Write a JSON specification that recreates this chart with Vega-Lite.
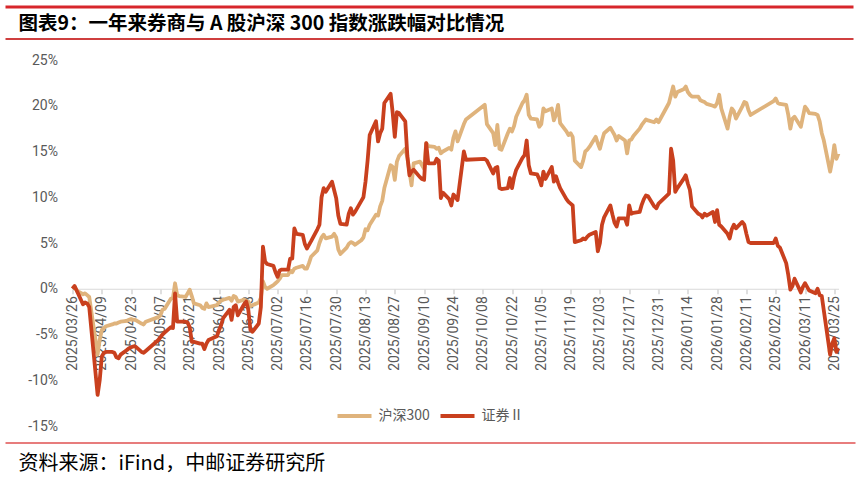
{
"$schema": "https://vega.github.io/schema/vega-lite/v6.json",
"background": "white",
"padding": {"left": 3.5, "top": 5, "right": 0, "bottom": 0},
"spacing": 0,
"config": {"view": {"stroke": null}, "font": "Noto Sans CJK SC"},
"datasets": {"main": [
{"d":"2025-03-26","沪深300":0.0,"证券Ⅱ":0.0},
{"d":"2025-03-27","沪深300":0.2,"证券Ⅱ":0.3},
{"d":"2025-03-28","沪深300":-0.2,"证券Ⅱ":-0.2},
{"d":"2025-03-31","沪深300":-0.6,"证券Ⅱ":-1.7},
{"d":"2025-04-01","沪深300":-0.5,"证券Ⅱ":-1.5},
{"d":"2025-04-02","沪深300":-0.7,"证券Ⅱ":-1.6},
{"d":"2025-04-03","沪深300":-0.9,"证券Ⅱ":-2.0},
{"d":"2025-04-07","沪深300":-7.2,"证券Ⅱ":-11.6},
{"d":"2025-04-08","沪深300":-5.6,"证券Ⅱ":-10.0},
{"d":"2025-04-09","沪深300":-4.5,"证券Ⅱ":-7.4},
{"d":"2025-04-10","沪深300":-4.3,"证券Ⅱ":-7.0},
{"d":"2025-04-11","沪深300":-4.1,"证券Ⅱ":-6.9},
{"d":"2025-04-14","沪深300":-3.9,"证券Ⅱ":-6.9},
{"d":"2025-04-15","沪深300":-3.8,"证券Ⅱ":-7.0},
{"d":"2025-04-16","沪深300":-3.8,"证券Ⅱ":-7.5},
{"d":"2025-04-17","沪深300":-3.7,"证券Ⅱ":-7.6},
{"d":"2025-04-18","沪深300":-3.6,"证券Ⅱ":-7.2},
{"d":"2025-04-21","沪深300":-3.5,"证券Ⅱ":-6.7},
{"d":"2025-04-22","沪深300":-3.4,"证券Ⅱ":-6.5},
{"d":"2025-04-23","沪深300":-3.3,"证券Ⅱ":-6.4},
{"d":"2025-04-24","沪深300":-3.4,"证券Ⅱ":-6.3},
{"d":"2025-04-25","沪深300":-3.4,"证券Ⅱ":-6.3},
{"d":"2025-04-28","沪深300":-3.8,"证券Ⅱ":-6.9},
{"d":"2025-04-29","沪深300":-3.9,"证券Ⅱ":-7.0},
{"d":"2025-04-30","沪深300":-3.6,"证券Ⅱ":-6.8},
{"d":"2025-05-06","沪深300":-3.1,"证券Ⅱ":-5.6},
{"d":"2025-05-07","沪深300":-2.9,"证券Ⅱ":-5.3},
{"d":"2025-05-08","沪深300":-2.3,"证券Ⅱ":-5.0},
{"d":"2025-05-09","沪深300":-2.2,"证券Ⅱ":-4.8},
{"d":"2025-05-12","沪深300":-1.1,"证券Ⅱ":-4.2},
{"d":"2025-05-13","沪深300":-1.0,"证券Ⅱ":-4.3},
{"d":"2025-05-14","沪深300":0.6,"证券Ⅱ":-0.5},
{"d":"2025-05-15","沪深300":-0.7,"证券Ⅱ":-3.6},
{"d":"2025-05-16","沪深300":-0.8,"证券Ⅱ":-3.6},
{"d":"2025-05-19","沪深300":-0.9,"证券Ⅱ":-3.6},
{"d":"2025-05-20","沪深300":-0.5,"证券Ⅱ":-3.7},
{"d":"2025-05-21","沪深300":-0.1,"证券Ⅱ":-4.2},
{"d":"2025-05-22","沪深300":-0.8,"证券Ⅱ":-5.8},
{"d":"2025-05-23","沪深300":-1.6,"证券Ⅱ":-5.8},
{"d":"2025-05-26","沪深300":-1.8,"证券Ⅱ":-6.0},
{"d":"2025-05-27","沪深300":-2.1,"证券Ⅱ":-6.0},
{"d":"2025-05-28","沪深300":-2.2,"证券Ⅱ":-6.6},
{"d":"2025-05-29","沪深300":-1.6,"证券Ⅱ":-6.0},
{"d":"2025-05-30","沪深300":-2.0,"证券Ⅱ":-5.6},
{"d":"2025-06-03","沪深300":-1.8,"证券Ⅱ":-5.2},
{"d":"2025-06-04","沪深300":-1.5,"证券Ⅱ":-4.5},
{"d":"2025-06-05","沪深300":-1.3,"证券Ⅱ":-4.0},
{"d":"2025-06-06","沪深300":-1.2,"证券Ⅱ":-3.2},
{"d":"2025-06-09","沪深300":-1.0,"证券Ⅱ":-2.3},
{"d":"2025-06-10","沪深300":-1.3,"证券Ⅱ":-3.4},
{"d":"2025-06-11","沪深300":-0.8,"证券Ⅱ":-2.0},
{"d":"2025-06-12","沪深300":-0.9,"证券Ⅱ":-1.8},
{"d":"2025-06-13","沪深300":-1.4,"证券Ⅱ":-2.9},
{"d":"2025-06-16","沪深300":-1.2,"证券Ⅱ":-1.7},
{"d":"2025-06-17","沪深300":-1.3,"证券Ⅱ":-1.4},
{"d":"2025-06-18","沪深300":-1.4,"证券Ⅱ":-2.3},
{"d":"2025-06-19","沪深300":-1.9,"证券Ⅱ":-4.5},
{"d":"2025-06-20","沪深300":-1.8,"证券Ⅱ":-4.7},
{"d":"2025-06-23","沪深300":-1.5,"证券Ⅱ":-3.8},
{"d":"2025-06-24","沪深300":-1.0,"证券Ⅱ":-2.0},
{"d":"2025-06-25","沪深300":0.8,"证券Ⅱ":4.6},
{"d":"2025-06-26","沪深300":0.2,"证券Ⅱ":3.0},
{"d":"2025-06-27","沪深300":0.0,"证券Ⅱ":2.7},
{"d":"2025-06-30","沪深300":0.4,"证券Ⅱ":2.5},
{"d":"2025-07-01","沪深300":0.6,"证券Ⅱ":1.8},
{"d":"2025-07-02","沪深300":0.8,"证券Ⅱ":1.3},
{"d":"2025-07-03","沪深300":1.1,"证券Ⅱ":2.0},
{"d":"2025-07-04","沪深300":1.5,"证券Ⅱ":2.1},
{"d":"2025-07-07","沪深300":1.5,"证券Ⅱ":2.1},
{"d":"2025-07-08","沪深300":2.0,"证券Ⅱ":3.3},
{"d":"2025-07-09","沪深300":1.8,"证券Ⅱ":3.3},
{"d":"2025-07-10","沪深300":2.2,"证券Ⅱ":6.6},
{"d":"2025-07-11","沪深300":2.3,"证券Ⅱ":6.0},
{"d":"2025-07-14","沪深300":2.5,"证券Ⅱ":5.9},
{"d":"2025-07-15","沪深300":2.2,"证券Ⅱ":4.9},
{"d":"2025-07-16","沪深300":2.2,"证券Ⅱ":4.4},
{"d":"2025-07-17","沪深300":2.8,"证券Ⅱ":4.8},
{"d":"2025-07-18","沪深300":3.5,"证券Ⅱ":5.2},
{"d":"2025-07-21","沪深300":4.2,"证券Ⅱ":6.5},
{"d":"2025-07-22","沪深300":5.0,"证券Ⅱ":7.0},
{"d":"2025-07-23","沪深300":5.6,"证券Ⅱ":10.0},
{"d":"2025-07-24","沪深300":5.9,"证券Ⅱ":11.0},
{"d":"2025-07-25","沪深300":5.5,"证券Ⅱ":10.6},
{"d":"2025-07-28","沪深300":5.7,"证券Ⅱ":11.7},
{"d":"2025-07-29","沪深300":6.0,"证券Ⅱ":10.8},
{"d":"2025-07-30","沪深300":5.6,"证券Ⅱ":9.9},
{"d":"2025-07-31","沪深300":4.3,"证券Ⅱ":8.0},
{"d":"2025-08-01","沪深300":3.8,"证券Ⅱ":7.1},
{"d":"2025-08-04","沪深300":4.5,"证券Ⅱ":7.0},
{"d":"2025-08-05","沪深300":4.9,"证券Ⅱ":8.2},
{"d":"2025-08-06","沪深300":5.1,"证券Ⅱ":8.8},
{"d":"2025-08-07","沪深300":5.0,"证券Ⅱ":8.1},
{"d":"2025-08-08","沪深300":4.8,"证券Ⅱ":8.4},
{"d":"2025-08-11","沪深300":5.3,"证券Ⅱ":9.6},
{"d":"2025-08-12","沪深300":5.6,"证券Ⅱ":10.0},
{"d":"2025-08-13","沪深300":6.5,"证券Ⅱ":11.7},
{"d":"2025-08-14","沪深300":6.4,"证券Ⅱ":14.0},
{"d":"2025-08-15","沪深300":7.0,"证券Ⅱ":16.8},
{"d":"2025-08-18","沪深300":8.1,"证券Ⅱ":18.3},
{"d":"2025-08-19","沪深300":8.0,"证券Ⅱ":16.1},
{"d":"2025-08-20","沪深300":9.0,"证券Ⅱ":17.0},
{"d":"2025-08-21","沪深300":9.6,"证券Ⅱ":17.5},
{"d":"2025-08-22","沪深300":11.0,"证券Ⅱ":20.3},
{"d":"2025-08-25","沪深300":13.5,"证券Ⅱ":21.3},
{"d":"2025-08-26","沪深300":13.3,"证券Ⅱ":19.2},
{"d":"2025-08-27","沪深300":11.9,"证券Ⅱ":16.6},
{"d":"2025-08-28","沪深300":13.9,"证券Ⅱ":19.3},
{"d":"2025-08-29","沪深300":14.5,"证券Ⅱ":19.2},
{"d":"2025-09-01","沪深300":15.3,"证券Ⅱ":18.3},
{"d":"2025-09-02","沪深300":14.3,"证券Ⅱ":14.5},
{"d":"2025-09-03","沪深300":12.8,"证券Ⅱ":12.4},
{"d":"2025-09-04","沪深300":11.3,"证券Ⅱ":12.8},
{"d":"2025-09-05","沪深300":13.7,"证券Ⅱ":13.0},
{"d":"2025-09-08","沪深300":13.9,"证券Ⅱ":12.2},
{"d":"2025-09-09","沪深300":13.5,"证券Ⅱ":12.0},
{"d":"2025-09-10","沪深300":13.1,"证券Ⅱ":11.9},
{"d":"2025-09-11","沪深300":15.9,"证券Ⅱ":15.9},
{"d":"2025-09-12","沪深300":15.6,"证券Ⅱ":13.7},
{"d":"2025-09-15","沪深300":15.5,"证券Ⅱ":13.7},
{"d":"2025-09-16","沪深300":15.3,"证券Ⅱ":14.2},
{"d":"2025-09-17","沪深300":15.4,"证券Ⅱ":14.0},
{"d":"2025-09-18","沪深300":14.8,"证券Ⅱ":9.9},
{"d":"2025-09-19","沪深300":15.0,"证券Ⅱ":10.5},
{"d":"2025-09-22","沪深300":15.4,"证券Ⅱ":9.8},
{"d":"2025-09-23","沪深300":15.2,"证券Ⅱ":9.1},
{"d":"2025-09-24","沪深300":16.5,"证券Ⅱ":10.3},
{"d":"2025-09-25","沪深300":17.2,"证券Ⅱ":10.0},
{"d":"2025-09-26","沪深300":16.1,"证券Ⅱ":9.7},
{"d":"2025-09-29","沪深300":18.0,"证券Ⅱ":15.0},
{"d":"2025-09-30","沪深300":18.5,"证券Ⅱ":14.1},
{"d":"2025-10-09","沪深300":20.1,"证券Ⅱ":14.2},
{"d":"2025-10-10","沪深300":18.0,"证券Ⅱ":14.0},
{"d":"2025-10-13","沪深300":17.0,"证券Ⅱ":12.6},
{"d":"2025-10-14","沪深300":15.7,"证券Ⅱ":13.2},
{"d":"2025-10-15","沪深300":17.9,"证券Ⅱ":13.3},
{"d":"2025-10-16","沪深300":15.3,"证券Ⅱ":11.0},
{"d":"2025-10-17","沪深300":15.2,"证券Ⅱ":10.9},
{"d":"2025-10-20","沪深300":17.0,"证券Ⅱ":11.0},
{"d":"2025-10-21","沪深300":17.5,"证券Ⅱ":12.1},
{"d":"2025-10-22","沪深300":17.2,"证券Ⅱ":11.0},
{"d":"2025-10-23","沪深300":17.8,"证券Ⅱ":12.2},
{"d":"2025-10-24","沪深300":18.8,"证券Ⅱ":13.0},
{"d":"2025-10-27","沪深300":20.3,"证券Ⅱ":14.3},
{"d":"2025-10-28","沪深300":20.6,"证券Ⅱ":14.6},
{"d":"2025-10-29","沪深300":21.2,"证券Ⅱ":16.2},
{"d":"2025-10-30","沪深300":19.0,"证券Ⅱ":13.5},
{"d":"2025-10-31","沪深300":18.6,"证券Ⅱ":12.6},
{"d":"2025-11-03","沪深300":18.5,"证券Ⅱ":12.5},
{"d":"2025-11-04","沪深300":17.7,"证券Ⅱ":12.0},
{"d":"2025-11-05","沪深300":18.0,"证券Ⅱ":11.3},
{"d":"2025-11-06","沪深300":19.7,"证券Ⅱ":12.8},
{"d":"2025-11-07","沪深300":19.4,"证券Ⅱ":12.0},
{"d":"2025-11-10","沪深300":19.7,"证券Ⅱ":13.3},
{"d":"2025-11-11","沪深300":18.4,"证券Ⅱ":11.7},
{"d":"2025-11-12","沪深300":19.0,"证券Ⅱ":12.3},
{"d":"2025-11-13","沪深300":20.1,"证券Ⅱ":11.6},
{"d":"2025-11-14","沪深300":18.1,"证券Ⅱ":11.0},
{"d":"2025-11-17","沪深300":17.2,"证券Ⅱ":9.8},
{"d":"2025-11-18","沪深300":16.8,"证券Ⅱ":9.5},
{"d":"2025-11-19","沪深300":17.0,"证券Ⅱ":9.3},
{"d":"2025-11-20","沪深300":16.6,"证券Ⅱ":9.1},
{"d":"2025-11-21","沪深300":14.0,"证券Ⅱ":5.1},
{"d":"2025-11-24","沪深300":13.3,"证券Ⅱ":5.3},
{"d":"2025-11-25","沪深300":14.0,"证券Ⅱ":5.5},
{"d":"2025-11-26","沪深300":15.0,"证券Ⅱ":5.4},
{"d":"2025-11-27","沪深300":15.2,"证券Ⅱ":5.7},
{"d":"2025-11-28","沪深300":15.5,"证券Ⅱ":5.9},
{"d":"2025-12-01","沪深300":16.6,"证券Ⅱ":6.2},
{"d":"2025-12-02","沪深300":15.9,"证券Ⅱ":4.1},
{"d":"2025-12-03","沪深300":15.3,"证券Ⅱ":5.0},
{"d":"2025-12-04","沪深300":16.2,"证券Ⅱ":7.0},
{"d":"2025-12-05","沪深300":17.0,"证券Ⅱ":7.8},
{"d":"2025-12-08","沪深300":17.6,"证券Ⅱ":9.1},
{"d":"2025-12-09","沪深300":17.2,"证券Ⅱ":8.1},
{"d":"2025-12-10","沪深300":16.8,"证券Ⅱ":7.2},
{"d":"2025-12-11","沪深300":16.2,"证券Ⅱ":6.8},
{"d":"2025-12-12","沪深300":16.7,"证券Ⅱ":7.7},
{"d":"2025-12-15","沪深300":16.2,"证券Ⅱ":7.7},
{"d":"2025-12-16","沪深300":14.8,"证券Ⅱ":7.0},
{"d":"2025-12-17","沪深300":16.2,"证券Ⅱ":9.1},
{"d":"2025-12-18","沪深300":16.3,"证券Ⅱ":8.2},
{"d":"2025-12-19","沪深300":16.7,"证券Ⅱ":8.3},
{"d":"2025-12-22","沪深300":17.5,"证券Ⅱ":8.4},
{"d":"2025-12-23","沪深300":17.9,"证券Ⅱ":9.2},
{"d":"2025-12-24","沪深300":18.2,"证券Ⅱ":9.8},
{"d":"2025-12-25","沪深300":18.5,"证券Ⅱ":10.2},
{"d":"2025-12-26","沪深300":18.4,"证券Ⅱ":10.1},
{"d":"2025-12-29","沪深300":18.2,"证券Ⅱ":9.0},
{"d":"2025-12-30","沪深300":18.5,"证券Ⅱ":8.8},
{"d":"2025-12-31","沪深300":18.2,"证券Ⅱ":9.3},
{"d":"2026-01-05","沪深300":20.3,"证券Ⅱ":10.4},
{"d":"2026-01-06","沪深300":21.2,"证券Ⅱ":15.3},
{"d":"2026-01-07","沪深300":22.1,"证券Ⅱ":14.0},
{"d":"2026-01-08","沪深300":21.0,"证券Ⅱ":10.6},
{"d":"2026-01-09","沪深300":21.5,"证券Ⅱ":11.0},
{"d":"2026-01-12","沪深300":21.8,"证券Ⅱ":12.0},
{"d":"2026-01-13","沪深300":22.1,"证券Ⅱ":12.4},
{"d":"2026-01-14","沪深300":21.5,"证券Ⅱ":11.5},
{"d":"2026-01-15","沪深300":21.2,"证券Ⅱ":10.8},
{"d":"2026-01-16","沪深300":21.0,"证券Ⅱ":9.0},
{"d":"2026-01-19","沪深300":21.0,"证券Ⅱ":8.2},
{"d":"2026-01-20","沪深300":20.6,"证券Ⅱ":8.1},
{"d":"2026-01-21","沪深300":20.5,"证券Ⅱ":7.8},
{"d":"2026-01-22","沪深300":20.4,"证券Ⅱ":8.2},
{"d":"2026-01-23","沪深300":20.2,"证券Ⅱ":8.0},
{"d":"2026-01-26","沪深300":20.0,"证券Ⅱ":8.4},
{"d":"2026-01-27","沪深300":19.9,"证券Ⅱ":7.3},
{"d":"2026-01-28","沪深300":20.3,"证券Ⅱ":8.6},
{"d":"2026-01-29","沪深300":21.2,"证券Ⅱ":7.0},
{"d":"2026-01-30","沪深300":19.7,"证券Ⅱ":6.8},
{"d":"2026-02-02","沪深300":17.5,"证券Ⅱ":6.0},
{"d":"2026-02-03","沪深300":18.8,"证券Ⅱ":5.5},
{"d":"2026-02-04","沪深300":19.7,"证券Ⅱ":6.5},
{"d":"2026-02-05","沪深300":19.4,"证券Ⅱ":7.0},
{"d":"2026-02-06","沪深300":18.6,"证券Ⅱ":6.6},
{"d":"2026-02-09","沪深300":19.9,"证券Ⅱ":7.3},
{"d":"2026-02-10","沪深300":20.4,"证券Ⅱ":7.0},
{"d":"2026-02-11","沪深300":20.3,"证券Ⅱ":6.0},
{"d":"2026-02-12","沪深300":19.5,"证券Ⅱ":5.1},
{"d":"2026-02-13","沪深300":19.0,"证券Ⅱ":5.0},
{"d":"2026-02-24","沪深300":20.5,"证券Ⅱ":5.0},
{"d":"2026-02-25","沪深300":20.8,"证券Ⅱ":5.5},
{"d":"2026-02-26","沪深300":20.3,"证券Ⅱ":4.7},
{"d":"2026-02-27","沪深300":20.2,"证券Ⅱ":4.5},
{"d":"2026-03-02","沪深300":20.1,"证券Ⅱ":2.8},
{"d":"2026-03-03","沪深300":19.0,"证券Ⅱ":1.5},
{"d":"2026-03-04","沪深300":17.5,"证券Ⅱ":-0.1},
{"d":"2026-03-05","沪深300":18.6,"证券Ⅱ":0.3},
{"d":"2026-03-06","沪深300":18.8,"证券Ⅱ":1.1},
{"d":"2026-03-09","沪深300":17.7,"证券Ⅱ":-0.4},
{"d":"2026-03-10","沪深300":18.8,"证券Ⅱ":0.2},
{"d":"2026-03-11","沪深300":19.9,"证券Ⅱ":0.6},
{"d":"2026-03-12","沪深300":19.6,"证券Ⅱ":0.2},
{"d":"2026-03-13","沪深300":19.2,"证券Ⅱ":-0.2},
{"d":"2026-03-16","沪深300":19.1,"证券Ⅱ":-0.5},
{"d":"2026-03-17","沪深300":19.0,"证券Ⅱ":0.0},
{"d":"2026-03-18","沪深300":18.3,"证券Ⅱ":-0.7},
{"d":"2026-03-19","沪深300":17.0,"证券Ⅱ":-0.8},
{"d":"2026-03-20","沪深300":16.2,"证券Ⅱ":-2.4},
{"d":"2026-03-23","沪深300":12.8,"证券Ⅱ":-7.2},
{"d":"2026-03-24","沪深300":14.0,"证券Ⅱ":-6.0},
{"d":"2026-03-25","沪深300":15.7,"证券Ⅱ":-5.4},
{"d":"2026-03-26","沪深300":14.2,"证券Ⅱ":-6.9},
{"d":"2026-03-27","沪深300":14.8,"证券Ⅱ":-6.5}
]},
"vconcat": [
{
 "width": 848, "height": 28.75,
 "data": {"values": []},
 "mark": {"type": "point", "opacity": 0},
 "view": {"stroke": "#D7262B", "strokeWidth": 3, "strokeDash": [848, 10000]},
 "title": {"text": "图表9：一年来券商与 A 股沪深 300 指数涨跌幅对比情况", "orient": "top", "anchor": "start", "frame": "group", "dx": 13, "offset": -27, "fontSize": 19.5, "fontWeight": "bold", "color": "#000000", "font": "Noto Sans CJK SC"}
},
{
 "width": 848, "height": 13.25,
 "data": {"values": []},
 "mark": {"type": "point", "opacity": 0},
 "view": {"stroke": "#C00000", "strokeWidth": 1.5, "strokeDash": [848, 10000]}
},
{
 "spacing": 0,
 "hconcat": [
  {
   "width": 22, "height": 381.25,
   "data": {"values": []},
   "mark": {"type": "point", "opacity": 0}
  },
  {
   "width": 766, "height": 366,
   "data": {"name": "main"},
   "encoding": {
    "x": {"field": "d", "type": "temporal",
     "scale": {"type": "utc", "domain": [{"year": 2025, "month": 3, "date": 26, "utc": true}, {"year": 2026, "month": 3, "date": 27, "utc": true}]},
     "axis": {"title": null, "grid": false, "offset": -137.25,
      "values": [
       {"year": 2025, "month": 3, "date": 26, "utc": true},
       {"year": 2025, "month": 4, "date": 9, "utc": true},
       {"year": 2025, "month": 4, "date": 23, "utc": true},
       {"year": 2025, "month": 5, "date": 7, "utc": true},
       {"year": 2025, "month": 5, "date": 21, "utc": true},
       {"year": 2025, "month": 6, "date": 4, "utc": true},
       {"year": 2025, "month": 6, "date": 18, "utc": true},
       {"year": 2025, "month": 7, "date": 2, "utc": true},
       {"year": 2025, "month": 7, "date": 16, "utc": true},
       {"year": 2025, "month": 7, "date": 30, "utc": true},
       {"year": 2025, "month": 8, "date": 13, "utc": true},
       {"year": 2025, "month": 8, "date": 27, "utc": true},
       {"year": 2025, "month": 9, "date": 10, "utc": true},
       {"year": 2025, "month": 9, "date": 24, "utc": true},
       {"year": 2025, "month": 10, "date": 8, "utc": true},
       {"year": 2025, "month": 10, "date": 22, "utc": true},
       {"year": 2025, "month": 11, "date": 5, "utc": true},
       {"year": 2025, "month": 11, "date": 19, "utc": true},
       {"year": 2025, "month": 12, "date": 3, "utc": true},
       {"year": 2025, "month": 12, "date": 17, "utc": true},
       {"year": 2025, "month": 12, "date": 31, "utc": true},
       {"year": 2026, "month": 1, "date": 14, "utc": true},
       {"year": 2026, "month": 1, "date": 28, "utc": true},
       {"year": 2026, "month": 2, "date": 11, "utc": true},
       {"year": 2026, "month": 2, "date": 25, "utc": true},
       {"year": 2026, "month": 3, "date": 11, "utc": true},
       {"year": 2026, "month": 3, "date": 25, "utc": true}
      ],
      "labelExpr": "utcFormat(datum.value, '%Y/%m/%d')",
      "labelAngle": 270, "labelAlign": "right", "labelBaseline": "middle",
      "labelPadding": 2, "tickSize": 5, "tickColor": "#BFBFBF",
      "domainColor": "#D9D9D9", "domainWidth": 1,
      "labelFont": "Roboto", "labelFontSize": 14, "labelColor": "#595959",
      "labelFlush": false, "labelOverlap": false}
    }
   },
   "layer": [
    {
     "mark": {"type": "line", "strokeWidth": 3.8, "strokeJoin": "round"},
     "encoding": {
      "y": {"field": "沪深300", "type": "quantitative",
       "scale": {"domain": [-15, 25], "nice": false, "zero": false},
       "axis": {"title": null, "grid": false, "ticks": false, "domain": false,
        "values": [-15, -10, -5, 0, 5, 10, 15, 20, 25],
        "labelExpr": "datum.value + '%'", "labelPadding": 15,
        "labelFont": "Roboto", "labelFontSize": 14, "labelColor": "#595959"}},
      "color": {"datum": "沪深300", "type": "nominal",
       "scale": {"domain": ["沪深300", "证券Ⅱ"], "range": ["#DFB37C", "#C9401E"]},
       "legend": {"title": null, "orient": "none", "legendX": 330, "legendY": 390,
        "direction": "horizontal", "symbolType": "stroke", "symbolSize": 1156,
        "symbolStrokeWidth": 4, "labelFont": "Noto Sans CJK SC", "labelFontSize": 14,
        "labelColor": "#595959", "labelOffset": 5, "columnPadding": 2, "padding": 0}}
     }
    },
    {
     "mark": {"type": "line", "strokeWidth": 3.8, "strokeJoin": "round"},
     "encoding": {
      "y": {"field": "证券Ⅱ", "type": "quantitative"},
      "color": {"datum": "证券Ⅱ", "type": "nominal"}
     }
    }
   ]
  }
 ]
},
{
 "width": 850, "height": 1,
 "data": {"values": []},
 "mark": {"type": "point", "opacity": 0},
 "view": {"stroke": "#E05252", "strokeWidth": 1.5, "strokeDash": [850, 10000]},
 "title": {"text": "资料来源：iFind，中邮证券研究所", "orient": "bottom", "anchor": "start", "frame": "group", "dx": 13, "offset": 9.5, "fontSize": 20, "fontWeight": "normal", "color": "#000000", "font": "Noto Sans CJK SC"}
}
]
}
